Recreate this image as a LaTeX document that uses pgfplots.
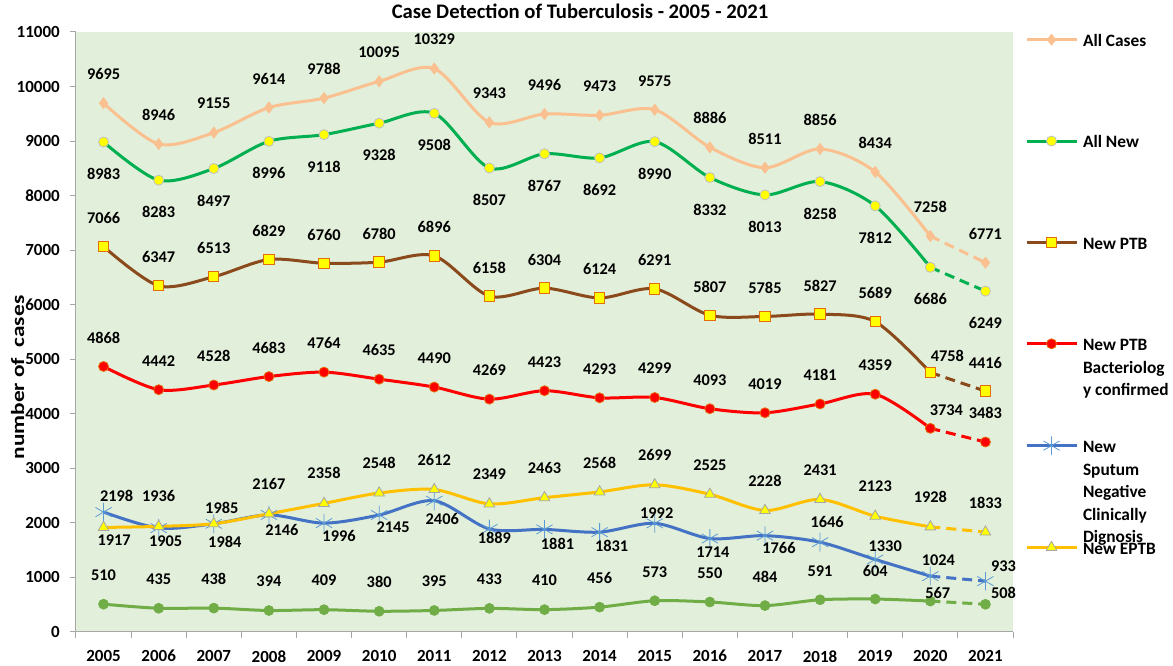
\documentclass[border=0pt]{standalone}
\usepackage{fontspec}
\setmainfont{Carlito}
\usepackage{graphicx}
\usepackage{pgfplots}
\usepackage{pgfplotstable}
\pgfplotsset{compat=1.18}

\definecolor{bg}{HTML}{E2EFDA}
\definecolor{axisgray}{HTML}{A6A6A6}
\definecolor{cAll}{HTML}{FAC090}
\definecolor{cNew}{HTML}{00B050}
\definecolor{cPTB}{HTML}{8B4A1C}
\definecolor{cRed}{HTML}{FF0000}
\definecolor{cBlue}{HTML}{4472C4}
\definecolor{cStar}{HTML}{5B9BD5}
\definecolor{cEPTB}{HTML}{FFC000}
\definecolor{cGreen}{HTML}{70AD47}
\definecolor{cYel}{HTML}{FFFF00}
\definecolor{cOrgEdge}{HTML}{E46C0A}
\definecolor{cGrayEdge}{HTML}{BFBFBF}

\pgfplotstableread{
x y dx dy
2005 9695 0 29
2006 8946 0 29
2007 9155 0 29
2008 9614 0 29
2009 9788 0 29
2010 10095 0 29
2011 10329 0 29
2012 9343 0 29
2013 9496 0 29
2014 9473 0 29
2015 9575 0 29
2016 8886 0 29
2017 8511 0 29
2018 8856 0 29
2019 8434 0 29
2020 7258 0 29
2021 6771 0 29
}\tAll
\pgfplotstableread{
x y dx dy
2005 8983 0 -32
2006 8283 0 -32
2007 8497 0 -32
2008 8996 0 -32
2009 9118 0 -32
2010 9328 0 -32
2011 9508 0 -32
2012 8507 0 -32
2013 8767 0 -32
2014 8692 0 -32
2015 8990 0 -32
2016 8332 0 -32
2017 8013 0 -32
2018 8258 0 -32
2019 7812 0 -32
2020 6686 0 -32
2021 6249 0 -32
}\tNew
\pgfplotstableread{
x y dx dy
2005 7066 0 28.5
2006 6347 0 28.5
2007 6513 0 28.5
2008 6829 0 28.5
2009 6760 0 28.5
2010 6780 0 28.5
2011 6896 0 28.5
2012 6158 0 28.5
2013 6304 0 28.5
2014 6124 0 28.5
2015 6291 0 28.5
2016 5807 0 28.5
2017 5785 0 28.5
2018 5827 0 28.5
2019 5689 0 28.5
2020 4758 17 17
2021 4416 0 28.5
}\tPTB
\pgfplotstableread{
x y dx dy
2005 4868 0 29
2006 4442 0 29
2007 4528 0 29
2008 4683 0 29
2009 4764 0 29
2010 4635 0 29
2011 4490 0 29
2012 4269 0 29
2013 4423 0 29
2014 4293 0 29
2015 4299 0 29
2016 4093 0 29
2017 4019 0 29
2018 4181 0 29
2019 4359 0 29
2020 3734 16 17.7
2021 3483 0 29
}\tRed
\pgfplotstableread{
x y dx dy
2005 2198 13 16
2006 1905 7 -13
2007 1984 11 -18
2008 2146 13 -15.5
2009 1996 15 -13
2010 2145 14 -12.5
2011 2406 8 -18
2012 1889 5 -9
2013 1881 13 -15
2014 1831 12 -13.5
2015 1992 2 10
2016 1714 3 -14
2017 1766 14 -12
2018 1646 7 20
2019 1330 10 13
2020 1024 8 16
2021 933 18 15
}\tBlue
\pgfplotstableread{
x y dx dy
2005 1917 10.5 -12.7
2006 1936 0 30
2007 1985 8 16
2008 2167 0 30
2009 2358 0 30
2010 2548 0 30
2011 2612 0 29.5
2012 2349 0 29.5
2013 2463 0 29.5
2014 2568 0 29.5
2015 2699 0 29.5
2016 2525 0 29.5
2017 2228 0 29.5
2018 2431 0 29.5
2019 2123 0 29.5
2020 1928 0 29.5
2021 1833 0 29.5
}\tEPTB
\pgfplotstableread{
x y dx dy
2005 510 0 29
2006 435 0 29
2007 438 0 29
2008 394 0 29
2009 409 0 29
2010 380 0 29
2011 395 0 29
2012 433 0 29
2013 410 0 29
2014 456 0 29
2015 573 0 29
2016 550 0 29
2017 484 0 29
2018 591 0 29
2019 604 0 28.5
2020 567 7.5 8
2021 508 18 11.5
}\tGreen

\pgfplotsset{
  lbl/.style={
    nodes near coords,
    point meta=y,
    visualization depends on={\thisrow{dx}\as\dx},
    visualization depends on={\thisrow{dy}\as\dy},
    every node near coord/.append style={anchor=center, inner sep=0pt,
      xshift=\dx*0.75pt, yshift=\dy*0.75pt, text=black,
      font=\bfseries\fontsize{12.25}{14}\selectfont},
  },
  solidpart/.style={no marks, smooth, restrict x to domain=2005:2020, forget plot},
  dashpart/.style={no marks, dash pattern=on 7.5pt off 4.5pt, restrict x to domain=2020:2021, forget plot},
  allL/.style={color=cAll, line width=2.25pt, line join=round},
  allM/.style={mark=diamond*, mark size=4.2pt, mark options={solid, fill=cAll, draw=cAll, line width=0.5pt}},
  newL/.style={color=cNew, line width=2.25pt, line join=round},
  newM/.style={mark=*, mark size=3.75pt, mark options={solid, fill=cYel, draw=cGrayEdge, line width=0.6pt}},
  ptbL/.style={color=cPTB, line width=2.25pt, line join=round},
  ptbM/.style={mark=square*, mark size=3.9pt, mark options={solid, fill=cYel, draw=cOrgEdge, line width=0.75pt}},
  redL/.style={color=cRed, line width=2.25pt, line join=round},
  redM/.style={mark=*, mark size=3.75pt, mark options={solid, fill=cRed, draw=cOrgEdge, line width=0.6pt}},
  blueL/.style={color=cBlue, line width=2.25pt, line join=round},
  blueM/.style={mark=asterisk, mark size=7pt, mark options={solid, draw=cStar, line width=0.6pt}},
  eptbL/.style={color=cEPTB, line width=2.25pt, line join=round},
  eptbM/.style={mark=triangle*, mark size=4.6pt, mark options={solid, fill=cYel, draw=axisgray, line width=0.6pt}},
  grnL/.style={color=cGreen, line width=2.25pt, line join=round},
  grnM/.style={mark=*, mark size=3.75pt, mark options={solid, fill=cGreen, draw=cGreen, line width=0.5pt}},
}

\begin{document}
\begin{tikzpicture}
\begin{axis}[
  at={(0,0)}, anchor=south west,
  width=702.75pt, height=450pt, scale only axis,
  xmin=2004.5, xmax=2021.5, ymin=0, ymax=11000,
  clip=false,
  axis lines*=left,
  axis line style={draw=axisgray, line width=0.75pt},
  axis background/.style={fill=bg},
  xtick={2005,2006,...,2021},
  ytick={0,1000,...,11000},
  minor xtick={2004.5,2005.5,...,2021.5},
  minor ytick={0,1000,...,11000},
  major tick length=0pt, minor tick length=4.5pt,
  tick align=outside,
  tick style={draw=axisgray, line width=0.75pt},
  scaled y ticks=false, scaled x ticks=false,
  /pgf/number format/.cd, fixed, precision=0, 1000 sep={}, assume math mode=true, /pgfplots/.cd,
  tick label style={font=\bfseries\fontsize{12.75}{15}\selectfont, text=black},
  xticklabel style={anchor=north, inner sep=0pt, yshift=-13.5pt},
  yticklabel style={anchor=east, inner sep=0pt, xshift=-12pt},
  title={Case Detection of Tuberculosis - 2005 - 2021},
  title style={at={(axis description cs:0.5379,1.0088)}, anchor=base, inner sep=0pt,
    font=\bfseries\fontsize{15.5}{18}\selectfont},
  ylabel={\scalebox{1.25}[1]{number of~ cases}},
  ylabel style={at={(axis description cs:-0.0624,0.424)}, anchor=center, inner sep=0pt,
    font=\bfseries\fontsize{14}{16}\selectfont},
  legend image code/.code={\draw[mark repeat=2,mark phase=2,#1] plot coordinates {(0pt,0pt) (18.75pt,0pt) (37.5pt,0pt)};},
  legend cell align=left,
  legend style={at={(1.0128,1.002)}, anchor=north west, draw=none, fill=none,
    inner sep=0pt, outer sep=0pt, row sep=62.7pt, column sep=3.75pt,
    font=\bfseries\fontsize{13}{16.9}\selectfont, cells={anchor=west}, nodes={inner sep=0pt}},
]
\addlegendimage{allL, allM}
\addlegendentry{\strut All Cases}
\addlegendimage{newL, newM}
\addlegendentry{\strut All New}
\addlegendimage{ptbL, ptbM}
\addlegendentry{\strut New PTB}
\addlegendimage{redL, redM}
\addlegendentry{\strut\smash{\vtop{\hbox{New PTB}\hbox{Bacteriolog}\hbox{y confirmed}}}}
\addlegendimage{blueL, blueM}
\addlegendentry{\strut\smash{\vtop{\hbox{New}\hbox{Sputum}\hbox{Negative}\hbox{Clinically}\hbox{Dignosis}}}}
\addlegendimage{eptbL, eptbM}
\addlegendentry{\strut New EPTB}

% lines
\addplot[allL, solidpart] table[x=x,y=y]{\tAll};
\addplot[allL, dashpart] table[x=x,y=y]{\tAll};
\addplot[newL, solidpart] table[x=x,y=y]{\tNew};
\addplot[newL, dashpart] table[x=x,y=y]{\tNew};
\addplot[ptbL, solidpart] table[x=x,y=y]{\tPTB};
\addplot[ptbL, dashpart] table[x=x,y=y]{\tPTB};
\addplot[redL, solidpart] table[x=x,y=y]{\tRed};
\addplot[redL, dashpart] table[x=x,y=y]{\tRed};
\addplot[blueL, solidpart] table[x=x,y=y]{\tBlue};
\addplot[blueL, dashpart] table[x=x,y=y]{\tBlue};
\addplot[eptbL, solidpart] table[x=x,y=y]{\tEPTB};
\addplot[eptbL, dashpart] table[x=x,y=y]{\tEPTB};
\addplot[grnL, solidpart] table[x=x,y=y]{\tGreen};
\addplot[grnL, dashpart] table[x=x,y=y]{\tGreen};

% markers and labels
\addplot[only marks, allM, lbl, forget plot] table[x=x,y=y]{\tAll};
\addplot[only marks, newM, lbl, forget plot] table[x=x,y=y]{\tNew};
\addplot[only marks, ptbM, lbl, forget plot] table[x=x,y=y]{\tPTB};
\addplot[only marks, redM, lbl, forget plot] table[x=x,y=y]{\tRed};
\addplot[only marks, blueM, lbl, forget plot] table[x=x,y=y]{\tBlue};
\addplot[only marks, eptbM, lbl, forget plot] table[x=x,y=y]{\tEPTB};
\addplot[only marks, grnM, lbl, forget plot] table[x=x,y=y]{\tGreen};
\end{axis}
\pgfresetboundingbox
\path[use as bounding box] (-57pt,-25.5pt) rectangle (822.75pt,474pt);
\end{tikzpicture}
\end{document}
